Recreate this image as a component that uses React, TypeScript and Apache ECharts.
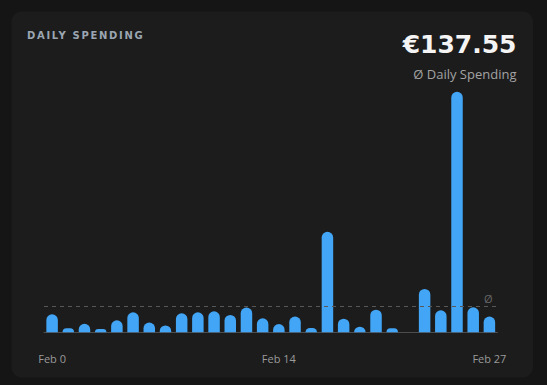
import React, { useEffect, useRef } from "react";
import * as echarts from "echarts";

const categories = [
  "Feb 0", "Feb 1", "Feb 2", "Feb 3", "Feb 4", "Feb 5", "Feb 6", "Feb 7", "Feb 8", "Feb 9",
  "Feb 10", "Feb 11", "Feb 12", "Feb 13", "Feb 14", "Feb 15", "Feb 16", "Feb 17", "Feb 18", "Feb 19",
  "Feb 20", "Feb 21", "Feb 22", "Feb 23", "Feb 24", "Feb 25", "Feb 26", "Feb 27",
];
const spending = [
  96, 21, 46, 18, 64, 107, 52, 37, 102, 107,
  112, 93, 132, 75, 44, 84, 23, 538, 73, 30,
  121, 21, 0, 232, 118, 1287, 134, 84,
];
const averageValue = 137.55;
const shownLabels = [0, 14, 27];
const titleText = "DAILY SPENDING";
const bigValueText = "€137.55";
const subText = "Ø Daily Spending";

export default function App() {
  const ref = useRef<HTMLDivElement>(null);
  useEffect(() => {
    if (!ref.current) return;
    const chart = echarts.init(ref.current, undefined, { renderer: "svg" });
    chart.setOption({
      animation: false,
      backgroundColor: "#151515",
      graphic: [
        {
          type: "rect",
          z: -10,
          shape: { x: 11.5, y: 11.5, width: 521.5, height: 366, r: 10 },
          style: { fill: "#1c1c1c" },
        },
        {
          type: "text",
          x: 27,
          y: 35.8,
          style: {
            text: titleText,
            fill: "#9ba6b2",
            font: "600 10px 'DejaVu Sans'",
            textAlign: "left",
            textVerticalAlign: "middle",
          },
        },
        {
          type: "text",
          x: 516.5,
          y: 44.5,
          style: {
            text: bigValueText,
            fill: "#f4f4f4",
            font: "bold 25px 'DejaVu Sans'",
            lineHeight: 26,
            textAlign: "right",
            textVerticalAlign: "middle",
          },
        },
        {
          type: "text",
          x: 516.5,
          y: 74,
          style: {
            text: subText,
            fill: "#a3a3a3",
            font: "13px 'Open Sans'",
            lineHeight: 14,
            textAlign: "right",
            textVerticalAlign: "middle",
          },
        },
      ],
      grid: { left: 44, right: 49.5, top: 91.7, bottom: 52.7 },
      xAxis: {
        type: "category",
        data: categories,
        boundaryGap: true,
        axisLine: { show: true, lineStyle: { color: "#4d4d4d", width: 1 } },
        axisTick: { show: false },
        axisLabel: {
          interval: (i: number) => shownLabels.includes(i),
          color: "#9a9a9a",
          fontFamily: "Open Sans",
          fontSize: 11,
          margin: 21,
        },
      },
      yAxis: {
        type: "value",
        min: 0,
        max: "dataMax",
        show: false,
        splitLine: { show: false },
      },
      series: [
        {
          type: "bar",
          data: spending,
          barWidth: 11.5,
          itemStyle: { color: "#42a5f5", borderRadius: [6, 6, 0, 0] },
          markLine: {
            silent: true,
            symbol: "none",
            data: [{ yAxis: averageValue }],
            lineStyle: { color: "#575757", type: [4, 4], width: 1 },
            label: {
              show: true,
              position: "insideEndTop",
              formatter: "Ø",
              color: "#666666",
              fontFamily: "Open Sans",
              fontSize: 11,
              distance: [5, 3],
            },
          },
        },
      ],
    });
    const texts = ref.current.querySelectorAll("text");
    texts.forEach((t) => {
      if (t.textContent === titleText) t.setAttribute("letter-spacing", "1.7");
    });
    return () => chart.dispose();
  }, []);
  return (
    <div style={{ position: "fixed", left: 0, top: 0, width: 547, height: 385 }}>
      <div ref={ref} style={{ width: 547, height: 385 }} />
    </div>
  );
}
